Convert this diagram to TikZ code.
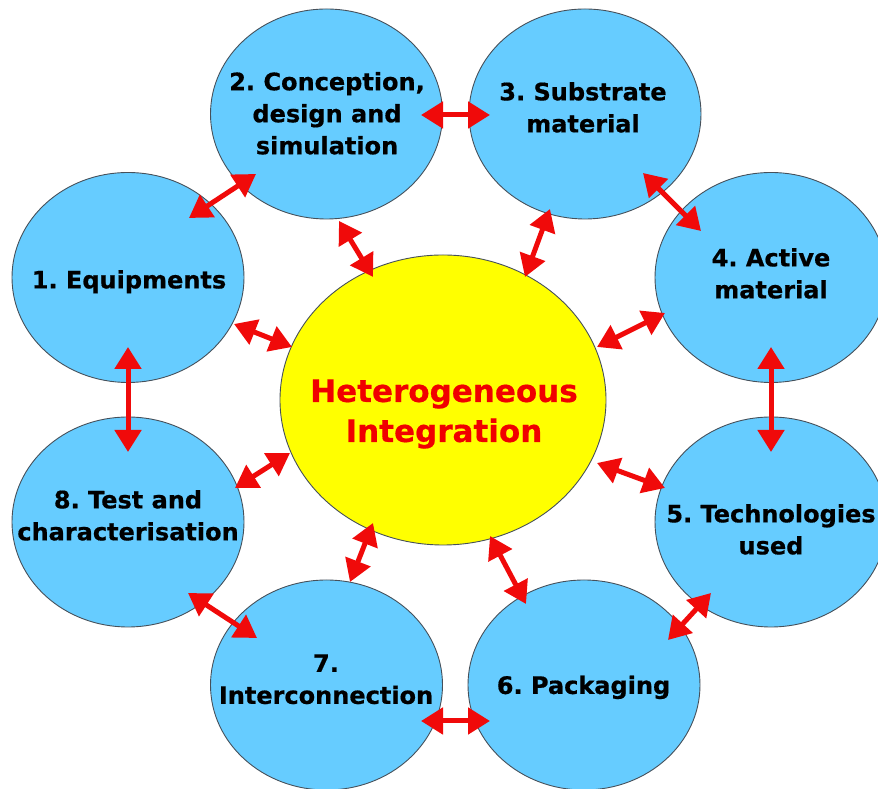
\documentclass[tikz,border=0pt]{standalone}
\usepackage{fontspec}
\setmainfont{DejaVu Sans}[BoldFeatures={FakeBold=0.6}]
\usetikzlibrary{shapes.geometric,arrows.meta,calc}
\definecolor{blobfill}{RGB}{102,204,255}
\definecolor{blobline}{RGB}{70,80,90}
\definecolor{hired}{RGB}{240,0,0}
\definecolor{arrred}{RGB}{240,10,10}
\definecolor{hubfill}{RGB}{255,255,0}
\tikzset{
  blob/.style={shape=ellipse, draw=blobline, line width=0.9pt, fill=blobfill,
    minimum width=232pt, minimum height=210pt, inner sep=0pt},
  hub/.style={shape=ellipse, draw=blobline, line width=0.9pt, fill=hubfill,
    minimum width=326pt, minimum height=290pt, inner sep=0pt},
  lbl/.style={align=center, inner sep=0pt, text=black,
    font=\fontsize{24}{32}\selectfont\bfseries},
  hublbl/.style={align=center, inner sep=0pt, text=hired,
    font=\fontsize{31}{40}\selectfont\bfseries},
  link/.style={draw=arrred, line width=5pt,
    {Triangle[length=22pt,width=26pt]}-{Triangle[length=22pt,width=26pt]}}
}
\frenchspacing
\begin{document}
\begin{tikzpicture}[x=1pt,y=1pt]
\useasboundingbox (0,0) rectangle (878,789);
\clip (0,0) rectangle (878,789);
% shapes
\node[hub]  (cc) at (443,389) {};
\node[blob] (c1) at (128,511.5) {};
\node[blob] (c2) at (326.5,675) {};
\node[blob] (c3) at (585,675) {};
\node[blob] (c4) at (771,511.5) {};
\node[blob] (c5) at (771,267) {};
\node[blob] (c6) at (584,104) {};
\node[blob] (c7) at (326.5,104) {};
\node[blob] (c8) at (128,267) {};
% connectors
\draw[link] ($(c1)+(61,59.5)$)   -- ($(c2)+(-70.5,-60)$);
\draw[link] ($(c2)+(94.5,-1)$)   -- ($(c3)+(-95,-1)$);
\draw[link] ($(c2)+(12.5,-107)$) -- ($(cc)+(-70,123)$);
\draw[link] ($(c1)+(106,-46.5)$) -- ($(cc)+(-151,53)$);
\draw[link] ($(c3)+(-35,-95)$)   -- ($(cc)+(82,123)$);
\draw[link] ($(c3)+(58,-59)$)    -- ($(c4)+(-70,46.5)$);
\draw[link] ($(c4)+(-106,-35.5)$) -- ($(cc)+(154,53)$);
\draw[link] ($(c4)+(0,-69.5)$)   -- ($(c5)+(0,70)$);
\draw[link] ($(c5)+(-106,34)$)   -- ($(cc)+(154,-63)$);
\draw[link] ($(c5)+(-60,-71)$)   -- ($(c6)+(84,45)$);
\draw[link] ($(c6)+(-58,81)$)    -- ($(cc)+(47,-136)$);
\draw[link] ($(c6)+(-94,-36)$)   -- ($(c7)+(94.5,-36)$);
\draw[link] ($(c7)+(23.5,103)$)  -- ($(cc)+(-70,-123)$);
\draw[link] ($(c8)+(60,-71)$)    -- ($(c7)+(-69.5,47)$);
\draw[link] ($(c8)+(107,34)$)    -- ($(cc)+(-153,-53)$);
\draw[link] ($(c1)+(0,-69.5)$)   -- ($(c8)+(0,70)$);
% texts
\node[hublbl] (tc) at (444,375) {Heterogeneous\\Integration};
\node[lbl] (t1) at (129,507.2) {1. Equipments};
\node[lbl] (t2) at (327,675.7) {2. Conception,\\design and\\simulation};
\node[lbl] (t3) at (583,681.6) {3. Substrate\\material};
\node[lbl] (t4) at (771,515.6) {4. Active\\material};
\node[lbl] (t5) at (771,259.6) {5. Technologies\\used};
\node[lbl] (t6) at (583.5,101.6) {6. Packaging};
\node[lbl] (t7) at (326,109.7) {7.\\Interconnection};
\node[lbl] (t8) at (128,273.6) {8. Test and\\characterisation};
\end{tikzpicture}
\end{document}
